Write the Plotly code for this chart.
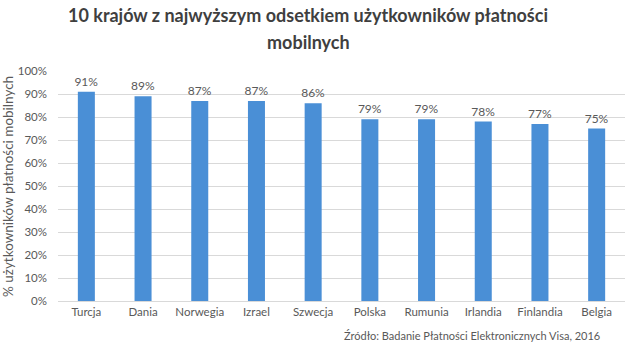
import plotly.graph_objects as go

countries = ["Turcja", "Dania", "Norwegia", "Izrael", "Szwecja", "Polska", "Rumunia", "Irlandia", "Finlandia", "Belgia"]
values = [0.91, 0.89, 0.87, 0.87, 0.86, 0.79, 0.79, 0.78, 0.77, 0.75]
tick_vals = [i / 10 for i in range(11)]
tick_text = [f"{i*10}%" for i in range(11)]

FONT = "Lato, 'Open Sans', sans-serif"
GRAY = "#595959"
W, H = 634, 353
L, R, T, B = 58, 9, 71, 52

fig = go.Figure(go.Bar(
    x=countries, y=values, width=0.3,
    marker=dict(color="#4a8fd6", line=dict(width=0)),
    text=[f"{round(v*100)}%" for v in values],
    textposition="outside", cliponaxis=False, constraintext="none",
    textfont=dict(family=FONT, size=12, color=GRAY),
))

def px_x(x):
    return x / W

def px_y(y):
    return 1 - y / H

fig.update_layout(
    width=W, height=H,
    margin=dict(l=L, r=R, t=T, b=B),
    paper_bgcolor="white", plot_bgcolor="white",
    showlegend=False,
    xaxis=dict(showgrid=False, showline=True, linecolor="#d9d9d9", ticks="",
               tickfont=dict(family=FONT, size=11.5, color=GRAY)),
    yaxis=dict(range=[0, 1], tickvals=tick_vals, ticktext=tick_text,
               showgrid=True, gridcolor="#d9d9d9", zeroline=False, ticks="",
               ticklabelstandoff=10,
               tickfont=dict(family=FONT, size=11.5, color=GRAY)),
    annotations=[
        dict(text="<b>10 krajów z najwyższym odsetkiem użytkowników płatności</b>",
             xref="paper", yref="paper", x=(308 - L) / (W - L - R), y=1 + (T - 15) / (H - T - B),
             xanchor="center", yanchor="middle", showarrow=False,
             font=dict(family=FONT, size=18, color="#3f3f3f")),
        dict(text="<b>mobilnych</b>",
             xref="paper", yref="paper", x=(308 - L) / (W - L - R), y=1 + (T - 42) / (H - T - B),
             xanchor="center", yanchor="middle", showarrow=False,
             font=dict(family=FONT, size=18, color="#3f3f3f")),
        dict(text="% użytkowników płatności mobilnych", textangle=-90,
             xref="paper", yref="paper", x=(8 - L) / (W - L - R), y=1 - (187 - T) / (H - T - B),
             xanchor="center", yanchor="middle", showarrow=False,
             font=dict(family=FONT, size=13.5, color=GRAY)),
        dict(text="Źródło: Badanie Płatności Elektronicznych Visa, 2016",
             xref="paper", yref="paper", x=(602 - L) / (W - L - R), y=1 - (335 - T) / (H - T - B),
             xanchor="right", yanchor="middle", showarrow=False,
             font=dict(family=FONT, size=11, color=GRAY)),
    ],
)

fig.write_html("out.html")
